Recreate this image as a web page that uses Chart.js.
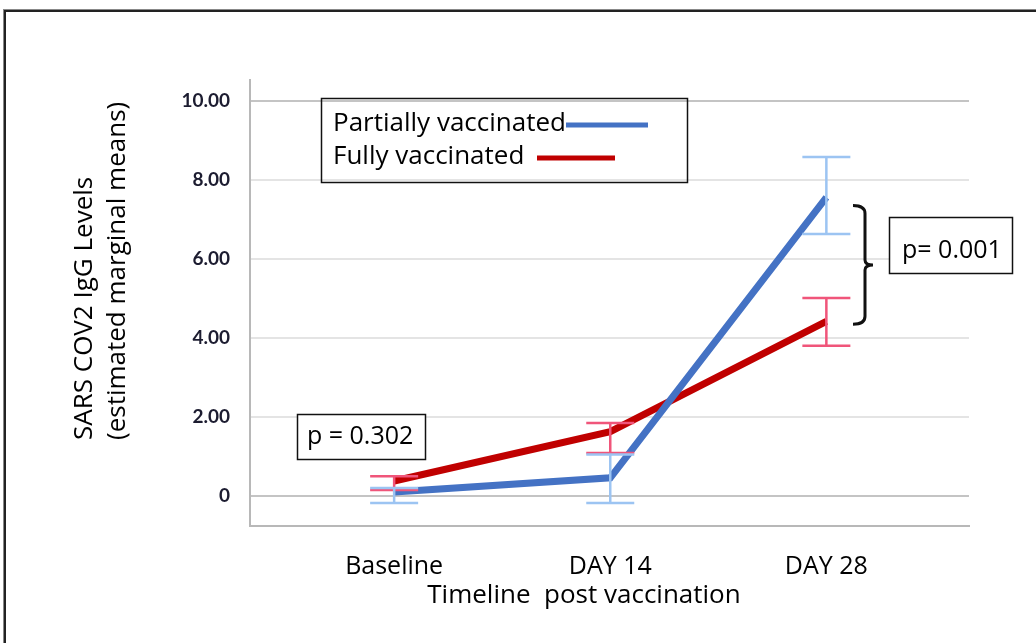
<!DOCTYPE html>
<html lang="en">
<head>
    <meta charset="UTF-8">
    <title>SARS COV2 IgG Levels</title>
    <style>
        html, body {
            margin: 0;
            padding: 0;
            background: #fff;
            overflow: hidden;
        }
        body {
            width: 1036px;
            height: 643px;
            position: relative;
        }
        .frame {
            position: absolute;
            left: 4px;
            top: 10px;
            width: 1200px;
            height: 800px;
            border-left: 2px solid #222;
            border-top: 2px solid #222;
            box-shadow: -1px -1px 0 #888;
        }
        #igChart {
            position: absolute;
            left: 0;
            top: 0;
        }
    </style>
</head>
<body>
    <div class="frame"></div>
    <canvas id="igChart" width="1036" height="643"></canvas>
    <script src="https://cdn.jsdelivr.net/npm/chart.js"></script>
    <script>
        const timepoints = ['Baseline', 'DAY 14', 'DAY 28'];
        const yTicks = [0, 2, 4, 6, 8, 10];

        const partialMeans = [0.10, 0.46, 7.56];
        const partialUpper = [0.20, 1.05, 8.58];
        const partialLower = [-0.18, -0.18, 6.63];

        const fullMeans = [0.38, 1.63, 4.42];
        const fullUpper = [0.50, 1.85, 5.01];
        const fullLower = [0.15, 1.09, 3.80];

        const FONT = '"Open Sans", Lato, sans-serif';

        // error bars for both groups
        const errorBars = {
            id: 'errorBars',
            afterDatasetsDraw(chart) {
                const ctx = chart.ctx;
                const xs = chart.scales.x, ys = chart.scales.y;
                const groups = [
                    { up: fullUpper, lo: fullLower, color: '#f0557a' },
                    { up: partialUpper, lo: partialLower, color: '#9cc4f2' }
                ];
                ctx.save();
                groups.forEach(g => {
                    ctx.strokeStyle = g.color;
                    ctx.lineWidth = 2.5;
                    g.up.forEach((u, i) => {
                        const x = xs.getPixelForValue(i);
                        const y1 = ys.getPixelForValue(u);
                        const y2 = ys.getPixelForValue(g.lo[i]);
                        ctx.beginPath();
                        ctx.moveTo(x, y1); ctx.lineTo(x, y2);
                        ctx.moveTo(x - 24, y1); ctx.lineTo(x + 24, y1);
                        ctx.moveTo(x - 24, y2); ctx.lineTo(x + 24, y2);
                        ctx.stroke();
                    });
                });
                ctx.restore();
            }
        };

        // legend box, p values, bracket and axis titles
        const annotations = {
            id: 'annotations',
            afterDraw(chart) {
                const ctx = chart.ctx;
                const ys = chart.scales.y;
                ctx.save();
                ctx.fillStyle = '#000';
                ctx.strokeStyle = '#111';
                ctx.textBaseline = 'middle';

                // legend
                ctx.lineWidth = 1.5;
                ctx.strokeRect(321.5, 98.5, 366, 84);
                ctx.font = '26px ' + FONT;
                ctx.textAlign = 'left';
                ctx.fillText('Partially vaccinated', 333, 124);
                ctx.fillText('Fully vaccinated', 333, 157);
                ctx.lineWidth = 5;
                ctx.strokeStyle = '#4472c4';
                ctx.beginPath(); ctx.moveTo(566, 125); ctx.lineTo(648, 125); ctx.stroke();
                ctx.strokeStyle = '#c00000';
                ctx.beginPath(); ctx.moveTo(537, 158); ctx.lineTo(615, 158); ctx.stroke();

                // p value boxes
                ctx.strokeStyle = '#111';
                ctx.lineWidth = 1.5;
                ctx.fillStyle = '#fff';
                ctx.fillRect(297, 414, 128, 45);
                ctx.strokeRect(297.5, 414.5, 128, 45);
                ctx.fillRect(889, 217, 123, 56);
                ctx.strokeRect(889.5, 217.5, 123, 56);
                ctx.fillStyle = '#000';
                ctx.font = '25px ' + FONT;
                ctx.fillText('p = 0.302', 307, 437);
                ctx.fillText('p= 0.001', 902, 251);

                // bracket between day 28 groups
                const top = ys.getPixelForValue(7.35);
                const bot = ys.getPixelForValue(4.35);
                const mid = (top + bot) / 2;
                ctx.lineWidth = 3;
                ctx.beginPath();
                ctx.moveTo(853, top);
                ctx.quadraticCurveTo(865, top, 865, top + 8);
                ctx.lineTo(865, mid - 5);
                ctx.quadraticCurveTo(865, mid, 873, mid);
                ctx.quadraticCurveTo(865, mid, 865, mid + 5);
                ctx.lineTo(865, bot - 8);
                ctx.quadraticCurveTo(865, bot, 853, bot);
                ctx.stroke();

                // axis titles
                ctx.font = '26px ' + FONT;
                ctx.textAlign = 'left';
                ctx.save();
                ctx.translate(85, 440);
                ctx.rotate(-Math.PI / 2);
                ctx.fillText('SARS COV2 IgG Levels', 0, 0);
                ctx.fillText('(estimated marginal means)', 0, 33);
                ctx.restore();
                ctx.textAlign = 'center';
                ctx.fillText('Timeline  post vaccination', 584, 596);
                ctx.restore();
            }
        };

        const ctx = document.getElementById('igChart').getContext('2d');
        new Chart(ctx, {
            type: 'line',
            data: {
                datasets: [
                    {
                        label: 'Partially vaccinated',
                        data: partialMeans.map((v, i) => ({ x: i, y: v })),
                        borderColor: '#4472c4',
                        borderWidth: 7,
                        pointRadius: 0,
                        tension: 0
                    },
                    {
                        label: 'Fully vaccinated',
                        data: fullMeans.map((v, i) => ({ x: i, y: v })),
                        borderColor: '#c00000',
                        borderWidth: 7,
                        pointRadius: 0,
                        tension: 0
                    }
                ]
            },
            options: {
                responsive: false,
                animation: false,
                layout: { padding: { left: 0, top: 80, right: 67, bottom: 0 } },
                plugins: {
                    legend: { display: false },
                    tooltip: { enabled: false }
                },
                scales: {
                    x: {
                        type: 'linear',
                        min: -0.667,
                        max: 2.66,
                        afterBuildTicks: scale => {
                            scale.ticks = timepoints.map((t, i) => ({ value: i }));
                        },
                        afterFit: scale => { scale.height = 117; },
                        ticks: {
                            callback: v => timepoints[v],
                            font: { family: FONT, size: 25 },
                            color: '#000',
                            padding: 18,
                            maxRotation: 0
                        },
                        grid: { display: false },
                        border: { display: true, color: '#b8b8b8', width: 2 }
                    },
                    y: {
                        min: -0.76,
                        max: 10.53,
                        afterBuildTicks: scale => {
                            scale.ticks = yTicks.map(v => ({ value: v }));
                        },
                        afterFit: scale => { scale.width = 250; },
                        ticks: {
                            callback: v => v === 0 ? '0' : v.toFixed(2),
                            font: { family: 'Lato, sans-serif', size: 19, weight: 'bold' },
                            color: '#1c1c30',
                            padding: 20
                        },
                        grid: {
                            drawTicks: false,
                            color: ctx => (ctx.tick && (ctx.tick.value === 10 || ctx.tick.value === 0)) ? '#c4c4c4' : '#e4e4e4',
                            lineWidth: 2
                        },
                        border: { display: true, color: '#b8b8b8', width: 2 }
                    }
                }
            },
            plugins: [errorBars, annotations]
        });
    </script>
</body>
</html>
